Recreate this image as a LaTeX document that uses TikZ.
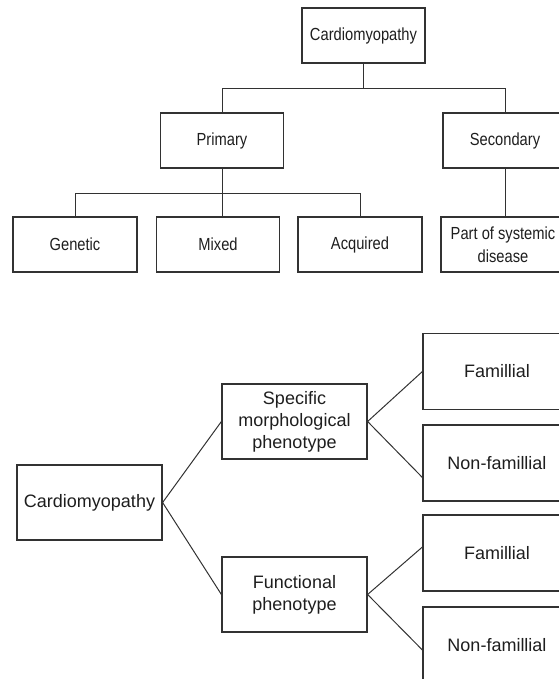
\documentclass[tikz,border=0pt]{standalone}
\usepackage{fontspec}
\setmainfont{Liberation Sans}
\newfontfamily\narrowsans[FakeStretch=0.84]{Liberation Sans}
\usepackage{xcolor}
\definecolor{lgrey}{RGB}{50,50,50}
\definecolor{tgrey}{RGB}{30,30,30}
\usetikzlibrary{calc}
\tikzset{
  topbox/.style={draw=lgrey, line width=1.2pt, inner sep=0pt, text=tgrey, align=center,
    minimum width=123pt, minimum height=55pt, font=\narrowsans\fontsize{17.5}{23}\selectfont},
  lowbox/.style={draw=lgrey, line width=1.2pt, inner sep=0pt, text=tgrey, align=center,
    minimum width=145pt, minimum height=75pt, font=\fontsize{18}{22}\selectfont},
  leafbox/.style={lowbox, minimum width=148pt, minimum height=76pt},
  conn/.style={draw=lgrey, line width=1pt}
}

\begin{document}
\begin{tikzpicture}[x=1pt,y=-1pt]
\useasboundingbox (0,0) rectangle (558,679);
% first tree
\node[topbox] (cardA) at (363.5,35.5) {Cardiomyopathy};
\node[topbox] (prim) at (222,140.5) {Primary};
\node[topbox, minimum width=124pt] (sec) at (505,140.5) {Secondary};
\node[topbox, minimum width=124pt] (gen) at (75,244.5) {Genetic};
\node[topbox] (mix) at (218,244.5) {Mixed};
\node[topbox, minimum width=124pt] (acq) at (360,244.5) {Acquired};
\node[topbox, minimum width=124pt] (part) at (503,244.5) {Part of systemic\\disease};
\draw[conn] (cardA.south) -- ++(0,25);
\draw[conn] (prim.north) |- ($(cardA.south)+(0,25)$) -| (sec.north);
\draw[conn] (prim.south) -- (prim.south |- mix.north);
\draw[conn] (gen.north) |- ($(prim.south)+(0,24.5)$) -| (acq.north);
\draw[conn] (sec.south) -- (sec.south |- part.north);
% second tree
\node[lowbox] (cardB) at (89.5,502.5) {Cardiomyopathy};
\node[lowbox] (spec) at (294.5,421.5) {Specific\\morphological\\phenotype};
\node[lowbox] (func) at (294.5,594.5) {Functional\\phenotype};
\node[leafbox] (famA) at (497,371.5) {Famillial};
\node[leafbox] (nonA) at (497,463) {Non-famillial};
\node[leafbox] (famB) at (497,553) {Famillial};
\node[leafbox] (nonB) at (497,645) {Non-famillial};
\draw[conn] (cardB.east) -- (spec.west);
\draw[conn] (cardB.east) -- (func.west);
\draw[conn] (spec.east) -- (famA.west);
\draw[conn] (spec.east) -- ([yshift=-14.5pt]nonA.west);
\draw[conn] (func.east) -- ([yshift=6pt]famB.west);
\draw[conn] (func.east) -- ([yshift=-5pt]nonB.west);
\end{tikzpicture}
\end{document}
